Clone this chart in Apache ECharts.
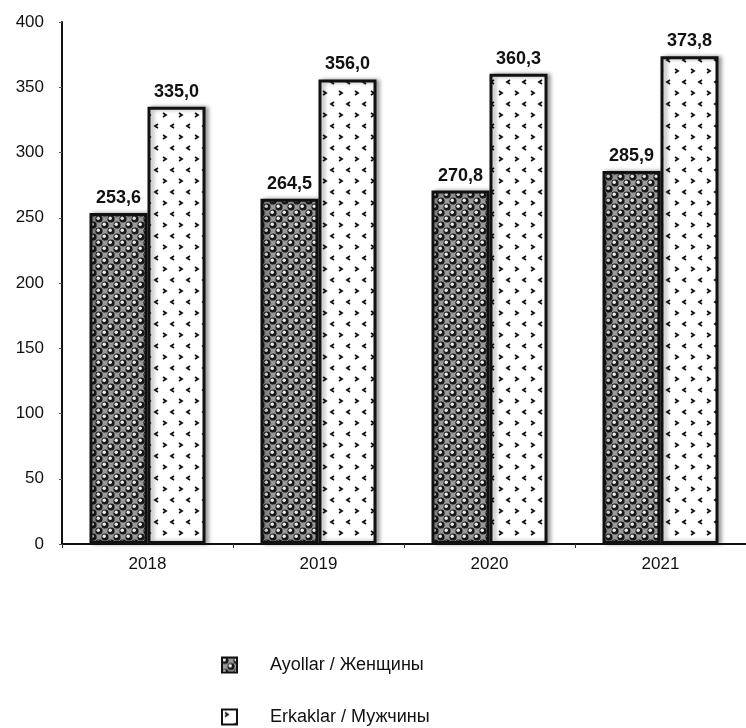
<!DOCTYPE html>
<html><head><meta charset="utf-8">
<script src="https://cdn.jsdelivr.net/npm/echarts@6/dist/echarts.min.js"></script>
<style>html,body{margin:0;padding:0;background:#fff}#c{width:746px;height:728px}</style>
</head><body><div id="c"></div>
<script>
const categories = ['2018', '2019', '2020', '2021'];
const ayollar = [253.6, 264.5, 270.8, 285.9];
const erkaklar = [335.0, 356.0, 360.3, 373.8];
const seriesNames = ['Ayollar / Женщины', 'Erkaklar / Мужчины'];
const yTicks = { min: 0, max: 400, interval: 50 };

function dotsPattern() {
  const c = document.createElement('canvas');
  c.width = 12; c.height = 12;
  const g = c.getContext('2d');
  g.fillStyle = '#9a9a9a'; g.fillRect(0, 0, 12, 12);
  const pts = [[3, 3], [9, 9], [9, -3], [-3, 9], [15, 9], [9, 15], [3, 15], [15, 3]];
  pts.forEach(([x, y]) => {
    g.fillStyle = '#1a1a1a';
    g.beginPath(); g.arc(x, y, 3.6, 0, Math.PI * 2); g.fill();
    g.fillStyle = '#f0f0f0';
    g.beginPath(); g.arc(x - 0.8, y - 0.8, 1.7, 0, Math.PI * 2); g.fill();
  });
  return c;
}
function chevPattern() {
  const c = document.createElement('canvas');
  c.width = 16; c.height = 22;
  const g = c.getContext('2d');
  g.fillStyle = '#ffffff'; g.fillRect(0, 0, 16, 22);
  g.strokeStyle = '#111'; g.lineWidth = 1.8;
  g.beginPath(); g.moveTo(3, 3); g.lineTo(6, 5); g.lineTo(3, 7); g.stroke();
  g.beginPath(); g.moveTo(14, 14); g.lineTo(11, 16); g.lineTo(14, 18); g.stroke();
  return c;
}
const FONT = 'Liberation Sans, Arial';
const fmt = p => p.value.toFixed(1).replace('.', ',');
const chart = echarts.init(document.getElementById('c'), null, { renderer: 'canvas' });
const labelStyle = { show: true, position: 'top', formatter: fmt, fontFamily: FONT, fontWeight: 'bold', fontSize: 18, color: '#111', distance: 6 };
const legendText = { fontFamily: FONT, fontSize: 18, color: '#111', padding: [0, 0, 0, 28] };
chart.setOption({
  animation: false,
  backgroundColor: '#fff',
  grid: { left: 62, right: -2, top: 22, bottom: 184 },
  legend: [
    { orient: 'vertical', left: 216, top: 651, itemWidth: 15, itemHeight: 15, icon: 'rect', textStyle: legendText, data: [seriesNames[0]] },
    { orient: 'vertical', left: 216, top: 703, itemWidth: 15, itemHeight: 15, icon: 'rect', textStyle: legendText, data: [seriesNames[1]] }
  ],
  xAxis: {
    type: 'category', data: categories,
    axisLine: { lineStyle: { color: '#111', width: 2 } },
    axisTick: { show: true, length: 4, lineStyle: { color: '#333' } },
    axisLabel: { fontFamily: FONT, fontSize: 17, color: '#111', margin: 12 }
  },
  yAxis: {
    type: 'value', min: yTicks.min, max: yTicks.max, interval: yTicks.interval,
    axisLine: { show: true, lineStyle: { color: '#111', width: 2 } },
    axisTick: { show: true, length: 3, lineStyle: { color: '#555' } },
    splitLine: { show: false },
    axisLabel: { fontFamily: FONT, fontSize: 17, color: '#111', margin: 18 }
  },
  series: [
    {
      name: seriesNames[0], type: 'bar', data: ayollar, barWidth: 58, barGap: '0%',
      itemStyle: { color: { image: dotsPattern(), repeat: 'repeat' }, borderColor: '#111', borderWidth: 3, shadowColor: 'rgba(0,0,0,0.35)', shadowBlur: 4, shadowOffsetX: 3 },
      label: labelStyle
    },
    {
      name: seriesNames[1], type: 'bar', data: erkaklar, barWidth: 58,
      itemStyle: { color: { image: chevPattern(), repeat: 'repeat' }, borderColor: '#111', borderWidth: 3, shadowColor: 'rgba(0,0,0,0.35)', shadowBlur: 4, shadowOffsetX: 3 },
      label: labelStyle
    }
  ]
});
</script></body></html>
